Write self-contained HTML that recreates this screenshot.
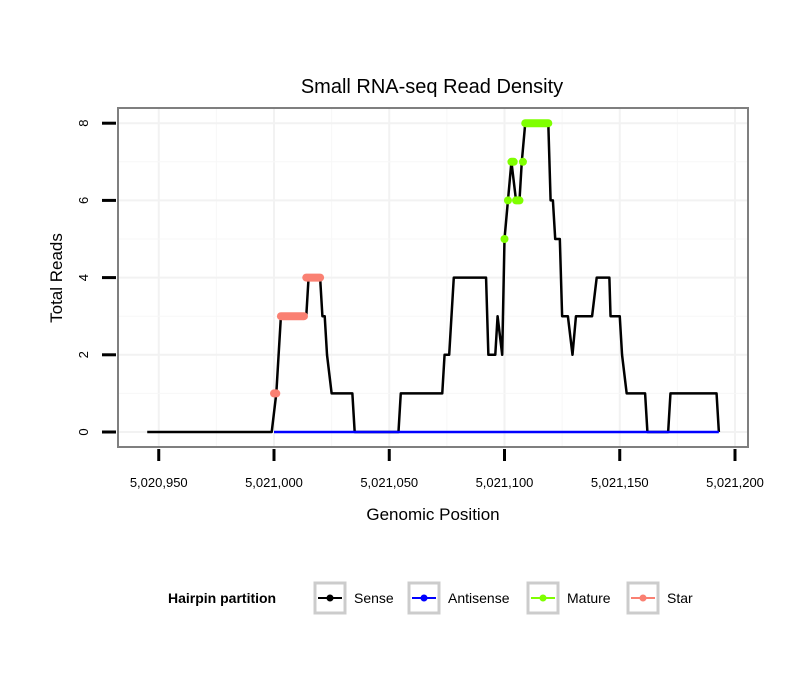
<!DOCTYPE html>
<html><head><meta charset="utf-8"><style>
body{margin:0;background:#fff;font-family:"Liberation Sans",sans-serif;}
svg text{font-family:"Liberation Sans",sans-serif;}
</style></head><body>
<svg width="810" height="690" viewBox="0 0 810 690">
<rect width="810" height="690" fill="#fff"/>
<text x="432" y="93" font-size="20" text-anchor="middle">Small RNA-seq Read Density</text>
<g id="grid"></g>
<rect x="118" y="108" width="630" height="339" fill="none" stroke="#7f7f7f" stroke-width="2"/>
<g id="series"></g>
<g id="axes"></g>
<text x="433" y="520" font-size="17" text-anchor="middle">Genomic Position</text>
<text transform="translate(62,278) rotate(-90)" font-size="17" text-anchor="middle">Total Reads</text>
<g>
<text x="168" y="603" font-size="14" font-weight="bold">Hairpin partition</text>
<g><rect x="315" y="583" width="30" height="30" fill="#fff" stroke="#ccc" stroke-width="3"/><line x1="318" y1="598" x2="342" y2="598" stroke="#000" stroke-width="2"/><circle cx="330" cy="598" r="3.5" fill="#000"/><text x="354" y="603" font-size="14">Sense</text></g>
<g><rect x="409" y="583" width="30" height="30" fill="#fff" stroke="#ccc" stroke-width="3"/><line x1="412" y1="598" x2="436" y2="598" stroke="#00f" stroke-width="2"/><circle cx="424" cy="598" r="3.5" fill="#00f"/><text x="448" y="603" font-size="14">Antisense</text></g>
<g><rect x="528" y="583" width="30" height="30" fill="#fff" stroke="#ccc" stroke-width="3"/><line x1="531" y1="598" x2="555" y2="598" stroke="#7fff00" stroke-width="2"/><circle cx="543" cy="598" r="3.5" fill="#7fff00"/><text x="567" y="603" font-size="14">Mature</text></g>
<g><rect x="628" y="583" width="30" height="30" fill="#fff" stroke="#ccc" stroke-width="3"/><line x1="631" y1="598" x2="655" y2="598" stroke="#fa8072" stroke-width="2"/><circle cx="643" cy="598" r="3.5" fill="#fa8072"/><text x="667" y="603" font-size="14">Star</text></g>
</g>
</svg>
<script>
const base = 5021000;
const senseOffsets = [-55,-1,1,3,14,15,20,21,22,23,25,34,35,54,55,73,74,76,78,92,93,96,97,99,100,101.5,103,105,106.5,107.5,109,119,120,121,122,124,125,127.5,129.5,131,138,140,145.5,146,150,151,153,161,162,171,172,192,193];
const senseValues  = [0,0,1,3,3,4,4,3,3,2,1,1,0,0,1,1,2,2,4,4,2,2,3,2,5,6,7,6,6,7,8,8,6,6,5,5,3,3,2,3,3,4,4,3,3,2,1,1,0,0,1,1,0];
const antisenseRange = [0,193];
const matureStart = [100,101.5,105,103,108,109];
const matureEnd   = [100,101.5,106.5,104,108,119];
const matureValue = [5,6,6,7,7,8];
const starStart = [0,3,14];
const starEnd   = [1,13,20];
const starValue = [1,3,4];
const xTicks = [-50,0,50,100,150,200];
const xTickLabels = ["5,020,950","5,021,000","5,021,050","5,021,100","5,021,150","5,021,200"];
const yTicks = [0,2,4,6,8];

const X = o => 274 + o*2.305;
const Y = v => 432 - v*38.6;
const NS = "http://www.w3.org/2000/svg";
function mk(tag, attrs, parent){const e=document.createElementNS(NS,tag);for(const k in attrs)e.setAttribute(k,attrs[k]);parent.appendChild(e);return e;}
const grid=document.getElementById('grid'), series=document.getElementById('series'), axes=document.getElementById('axes');
mk('rect',{x:118,y:108,width:630,height:339,fill:'#fff'},grid);
for(let i=0;i<xTicks.length;i++){
  const g=mk('line',{x1:X(xTicks[i]),x2:X(xTicks[i]),y1:108,y2:447,stroke:'#f2f2f2','stroke-width':2},grid);
  
  
  if(i<xTicks.length-1){const m=(xTicks[i]+xTicks[i+1])/2;mk('line',{x1:X(m),x2:X(m),y1:108,y2:447,stroke:'#f7f7f7','stroke-width':1},grid);}
  const t=mk('line',{x1:X(xTicks[i]),x2:X(xTicks[i]),y1:449,y2:461,stroke:'#000','stroke-width':3},axes);
  
  
  const l=mk('text',{x:X(xTicks[i]),y:487,'font-size':13,'text-anchor':'middle'},axes);l.textContent=xTickLabels[i];
  
  
}
for(let i=0;i<yTicks.length;i++){
  const g=mk('line',{x1:118,x2:748,y1:Y(yTicks[i]),y2:Y(yTicks[i]),stroke:'#f2f2f2','stroke-width':2},grid);
  
  
  if(i<yTicks.length-1){const m=(yTicks[i]+yTicks[i+1])/2;mk('line',{x1:118,x2:748,y1:Y(m),y2:Y(m),stroke:'#f7f7f7','stroke-width':1},grid);}
  const t=mk('line',{x1:102,x2:116,y1:Y(yTicks[i]),y2:Y(yTicks[i]),stroke:'#000','stroke-width':3},axes);
  
  
  const l=mk('text',{transform:`translate(88,${Y(yTicks[i])}) rotate(-90)`,'font-size':13,'text-anchor':'middle'},axes);l.textContent=yTicks[i];
  
  
}
const sp=mk('polyline',{points:senseOffsets.map((o,i)=>X(o)+','+Y(senseValues[i])).join(' '),fill:'none',stroke:'#000','stroke-width':2.5,'stroke-linejoin':'round'},series);


const ap=mk('line',{x1:X(antisenseRange[0]),x2:X(antisenseRange[1]),y1:Y(0),y2:Y(0),stroke:'#00f','stroke-width':2.5},series);


for(let i=0;i<starStart.length;i++){
  const s=mk('line',{x1:X(starStart[i]),x2:X(starEnd[i]),y1:Y(starValue[i]),y2:Y(starValue[i]),stroke:'#fa8072','stroke-width':8,'stroke-linecap':'round'},series);
  
  
}
for(let i=0;i<matureStart.length;i++){
  const s=mk('line',{x1:X(matureStart[i]),x2:X(matureEnd[i]),y1:Y(matureValue[i]),y2:Y(matureValue[i]),stroke:'#7fff00','stroke-width':8,'stroke-linecap':'round'},series);
  
  
}
</script>
</body></html>
